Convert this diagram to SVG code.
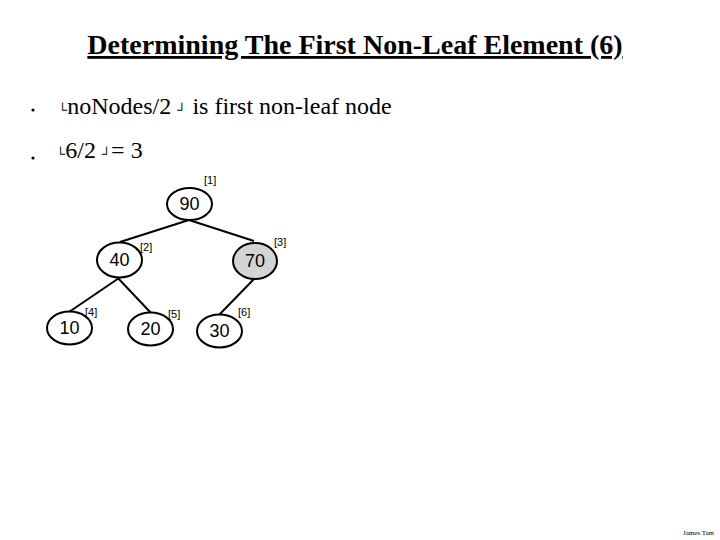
<svg xmlns="http://www.w3.org/2000/svg" width="720" height="540" viewBox="0 0 720 540">
<style>
.title{font-family:"Liberation Serif","Times New Roman",serif;font-weight:bold;font-size:28px;text-decoration:underline;}
.body{font-family:"Liberation Serif","Times New Roman",serif;font-size:24px;}
.fl{font-size:13px;}
.node ellipse{fill:#fff;stroke:#000;stroke-width:2;}
.node text.v{font-family:"Liberation Sans",Arial,sans-serif;font-size:18px;text-anchor:middle;}
.node text.i{font-family:"Liberation Sans",Arial,sans-serif;font-size:11px;}
#edges line{stroke:#000;stroke-width:2;}
</style>
<rect width="720" height="540" fill="#fff"/>
<text class="title" x="355" y="54" text-anchor="middle">Determining The First Non-Leaf Element (6)</text>
<circle cx="33" cy="110" r="1.6" fill="#000"/>
<text class="body" font-family="Liberation Serif, serif" x="58" y="114"><tspan class="fl">└</tspan>noNodes/2 <tspan class="fl">┘</tspan> is first non-leaf node</text>
<circle cx="33" cy="158" r="1.6" fill="#000"/>
<text class="body" font-family="Liberation Serif, serif" x="56" y="158"><tspan class="fl">└</tspan>6/2 <tspan class="fl">┘</tspan>= 3</text>
<g id="edges">
<line x1="189" y1="220" x2="120" y2="242"/>
<line x1="189" y1="220" x2="254" y2="241"/>
<line x1="122" y1="276" x2="69" y2="312"/>
<line x1="116" y1="276" x2="151" y2="313"/>
<line x1="254" y1="279" x2="219" y2="315"/>
</g>
<g id="n1" class="node"><ellipse cx="189.5" cy="204" rx="22.5" ry="16"/><text class="v" x="189.5" y="210">90</text><text class="i" x="204" y="184">[1]</text></g>
<g id="n2" class="node"><ellipse cx="119.5" cy="260" rx="22.5" ry="17.5"/><text class="v" x="119.5" y="266">40</text><text class="i" x="140" y="251">[2]</text></g>
<g id="n3" class="node"><ellipse cx="255" cy="261" rx="22" ry="18" style="fill:#d4d4d4"/><text class="v" x="255" y="267">70</text><text class="i" x="274" y="246">[3]</text></g>
<g id="n4" class="node"><ellipse cx="69.5" cy="328" rx="22.5" ry="16.5"/><text class="v" x="69.5" y="334">10</text><text class="i" x="85" y="316">[4]</text></g>
<g id="n5" class="node"><ellipse cx="150.5" cy="329" rx="22.5" ry="16.5"/><text class="v" x="150.5" y="335">20</text><text class="i" x="168" y="318">[5]</text></g>
<g id="n6" class="node"><ellipse cx="219.5" cy="331" rx="22.5" ry="16.5"/><text class="v" x="219.5" y="337">30</text><text class="i" x="238" y="316">[6]</text></g>
<text x="683" y="535" font-family="Liberation Serif,serif" font-size="7">James Tam</text>
</svg>
